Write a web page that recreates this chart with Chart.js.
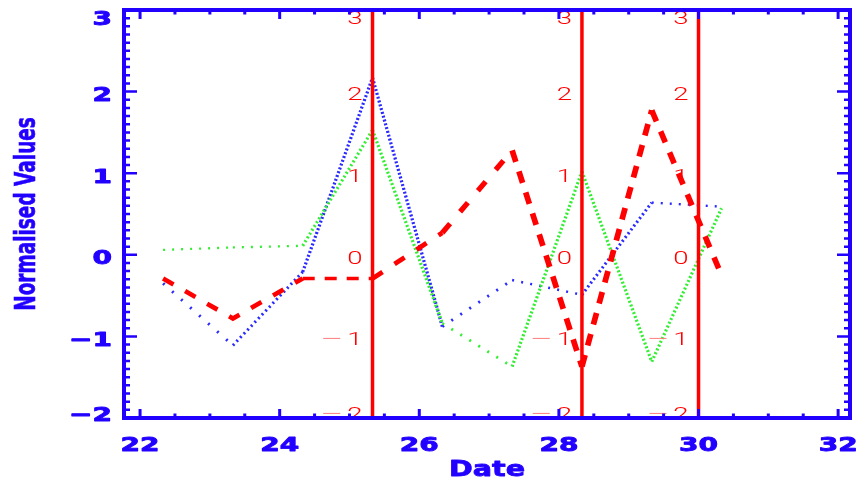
<!DOCTYPE html>
<html>
<head>
<meta charset="utf-8">
<title>Normalised Values</title>
<script src="https://cdn.jsdelivr.net/npm/chart.js@4/dist/chart.umd.min.js"></script>
<style>
  html, body { margin: 0; padding: 0; background: #ffffff; }
  canvas { display: block; }
</style>
</head>
<body>
<canvas id="c" width="856" height="481"></canvas>
<script>
// Sample dates (day of month) and the three normalised series
const dates = [22.33, 23.33, 24.33, 25.33, 26.33, 27.33, 28.33, 29.33, 30.33];
const blueSeries  = [-0.35, -1.11, -0.21, 2.17, -0.88, -0.31, -0.49, 0.64, 0.59];
const greenSeries = [0.06, 0.09, 0.11, 1.53, -0.84, -1.37, 1.02, -1.31, 0.57];
const redSeries   = [-0.29, -0.78, -0.29, -0.29, 0.27, 1.28, -1.37, 1.77, -0.25];

// Event markers drawn as vertical lines, each with its own value axis
const markerDates = [25.33, 28.33, 30.0];

// Axis ranges and labelled ticks
const xRange = [21.77, 32.17];
const yRange = [-2, 3];
const xTickValues = [22, 24, 26, 28, 30, 32];
const yTickValues = [-2, -1, 0, 1, 2, 3];

const AXIS_BLUE = '#2200ff';
const MARK_RED = '#ff0000';

const points = vals => dates.map((d, i) => ({ x: d, y: vals[i] }));

// Dot / dash pattern that keeps a steady rhythm along the dominant direction
function patterned(onLen, periodX, periodY) {
  return ctx => {
    const dx = Math.abs(ctx.p1.x - ctx.p0.x), dy = Math.abs(ctx.p1.y - ctx.p0.y);
    const len = Math.hypot(dx, dy) || 1;
    const major = Math.max(dx, dy) || 1;
    const period = (dx >= dy ? periodX : periodY) * len / major;
    return [onLen, Math.max(period - onLen, 1)];
  };
}

// Pen width grows on steep segments, as a thick pen stroked horizontally would
function steepWidth(base, extra) {
  return ctx => {
    const dx = Math.abs(ctx.p1.x - ctx.p0.x), dy = Math.abs(ctx.p1.y - ctx.p0.y);
    const len = Math.hypot(dx, dy) || 1;
    return base + extra * (dy / len);
  };
}

const lineBase = { showLine: true, pointRadius: 0, pointHoverRadius: 0, fill: false, tension: 0 };

const datasets = [
  Object.assign({}, lineBase, {
    label: 'blue', data: points(blueSeries), borderColor: '#2a2aff', borderWidth: 2.5, order: 3,
    segment: { borderDash: patterned(2, 9, 3.8), borderWidth: steepWidth(2.3, 1.0) }
  }),
  Object.assign({}, lineBase, {
    label: 'green', data: points(greenSeries), borderColor: '#33ee33', borderWidth: 2.5, order: 2,
    segment: { borderDash: patterned(2, 9, 3.8), borderWidth: steepWidth(2.3, 1.0) }
  }),
  Object.assign({}, lineBase, {
    label: 'red', data: points(redSeries), borderColor: MARK_RED, borderWidth: 4, order: 1,
    segment: { borderDash: patterned(12, 22, 21), borderWidth: steepWidth(3.6, 2.2) }
  })
].concat(markerDates.map(d => Object.assign({}, lineBase, {
  label: 'marker ' + d,
  data: [{ x: d, y: yRange[0] }, { x: d, y: yRange[1] }],
  borderColor: MARK_RED, borderWidth: 3.5, order: 0
})));

function drawText(ctx, text, x, y, font, color, align, sx, weight) {
  ctx.save();
  ctx.font = font;
  ctx.fillStyle = color;
  ctx.strokeStyle = color;
  ctx.textAlign = align;
  ctx.textBaseline = 'alphabetic';
  ctx.translate(x, y);
  ctx.scale(sx, 1);
  ctx.fillText(text, 0, 0);
  if (weight) {
    ctx.lineWidth = weight;
    ctx.lineJoin = 'round';
    ctx.strokeText(text, 0, 0);
  }
  ctx.restore();
}

const clamp = (v, a, b) => Math.min(Math.max(v, a), b);

// Boxed axes with inward ticks, plus the red value axes beside each marker
const boxedAxes = {
  id: 'boxedAxes',
  afterDatasetsDraw(chart) {
    const ctx = chart.ctx;
    const xs = chart.scales.x, ys = chart.scales.y;
    const { left, right, top, bottom } = chart.chartArea;

    // red value labels next to each marker line
    const redSize = 19;
    const redFont = '300 ' + redSize + 'px Roboto, "DejaVu Sans", sans-serif';
    markerDates.forEach(d => {
      const lx = xs.getPixelForValue(d) - 10;
      yTickValues.forEach(v => {
        const cy = clamp(ys.getPixelForValue(v) + 2, top + 7, bottom - 5);
        const base = cy + 0.711 * redSize / 2;
        const digits = String(Math.abs(v));
        drawText(ctx, digits, lx, base, redFont, MARK_RED, 'right', 1.45);
        if (v < 0) {
          ctx.save();
          ctx.font = redFont;
          const w = ctx.measureText(digits).width * 1.45;
          ctx.restore();
          drawText(ctx, '\u2212', lx - w - 3, base, redFont, '#ff7878', 'right', 2.2);
        }
      });
    });

    ctx.save();
    ctx.strokeStyle = AXIS_BLUE;
    ctx.lineCap = 'butt';

    // frame
    ctx.lineWidth = 4;
    ctx.strokeRect(left, top, right - left, bottom - top);

    // x ticks (bottom and top)
    ctx.lineWidth = 3;
    const xTick = (v, len) => {
      const px = xs.getPixelForValue(v);
      ctx.beginPath();
      ctx.moveTo(px, bottom); ctx.lineTo(px, bottom - len);
      ctx.moveTo(px, top); ctx.lineTo(px, top + len);
      ctx.stroke();
    };
    for (let k = Math.ceil(xs.min * 2); k <= Math.floor(xs.max * 2); k++) {
      const v = k / 2;
      xTick(v, xTickValues.includes(v) ? 9 : 4.5);
    }

    // y ticks (left and right)
    ctx.lineWidth = 2.5;
    const yTick = (v, len) => {
      const py = ys.getPixelForValue(v);
      ctx.beginPath();
      ctx.moveTo(left, py); ctx.lineTo(left + len, py);
      ctx.moveTo(right, py); ctx.lineTo(right - len, py);
      ctx.stroke();
    };
    for (let k = Math.ceil(ys.min * 10); k <= Math.floor(ys.max * 10); k++) {
      const v = k / 10;
      yTick(v, k % 10 === 0 ? 13 : 6);
    }
    ctx.restore();

    // tick labels
    const tickFont = 'bold 20px "DejaVu Sans", sans-serif';
    yTickValues.forEach(v => {
      const cy = clamp(ys.getPixelForValue(v) + 2, top + 8, bottom - 4);
      const label = v < 0 ? '\u2212' + Math.abs(v) : String(v);
      drawText(ctx, label, left - 12, cy + 7.3, tickFont, AXIS_BLUE, 'right', 1.4, 0.9);
    });
    xTickValues.forEach(v => {
      drawText(ctx, String(v), xs.getPixelForValue(v), 451, tickFont, AXIS_BLUE, 'center', 1.4, 0.9);
    });

    // axis titles
    drawText(ctx, 'Date', (left + right) / 2, 476, 'bold 22px "DejaVu Sans", sans-serif', AXIS_BLUE, 'center', 1.3, 0.8);

    ctx.save();
    ctx.translate(35, (top + bottom) / 2);
    ctx.rotate(-Math.PI / 2);
    ctx.scale(0.66, 1);
    ctx.font = 'bold 28px "DejaVu Sans", sans-serif';
    ctx.fillStyle = AXIS_BLUE;
    ctx.strokeStyle = AXIS_BLUE;
    ctx.lineWidth = 0.6;
    ctx.textAlign = 'center';
    ctx.textBaseline = 'alphabetic';
    ctx.fillText('Normalised Values', 0, 0);
    ctx.strokeText('Normalised Values', 0, 0);
    ctx.restore();
  }
};

new Chart(document.getElementById('c'), {
  type: 'scatter',
  data: { datasets },
  options: {
    responsive: false,
    devicePixelRatio: 1,
    animation: false,
    events: [],
    layout: { padding: { left: 124, top: 10, right: 6, bottom: 63 } },
    plugins: { legend: { display: false }, tooltip: { enabled: false } },
    scales: {
      x: { type: 'linear', min: xRange[0], max: xRange[1], display: false },
      y: { type: 'linear', min: yRange[0], max: yRange[1], display: false }
    }
  },
  plugins: [boxedAxes]
});
</script>
</body>
</html>
